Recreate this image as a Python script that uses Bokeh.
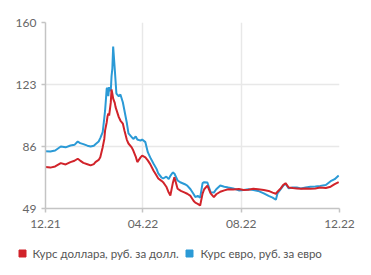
import pandas as pd
from bokeh.plotting import figure
from bokeh.layouts import column
from bokeh.core.properties import value
from bokeh.models import FixedTicker, DatetimeTickFormatter, ColumnDataSource, Range1d
from bokeh.embed import file_html
from bokeh.resources import INLINE

dates = [
    "2021-12-01", "2021-12-07", "2021-12-13", "2021-12-20", "2021-12-26", "2022-01-01", "2022-01-06",
    "2022-01-10", "2022-01-13", "2022-01-17", "2022-01-22", "2022-01-26", "2022-01-30", "2022-02-01",
    "2022-02-05", "2022-02-07", "2022-02-10", "2022-02-12", "2022-02-13", "2022-02-15", "2022-02-16",
    "2022-02-17", "2022-02-18", "2022-02-20", "2022-02-21", "2022-02-22", "2022-02-23", "2022-02-25",
    "2022-02-26", "2022-02-27", "2022-03-02", "2022-03-04", "2022-03-07", "2022-03-09", "2022-03-12",
    "2022-03-14", "2022-03-18", "2022-03-20", "2022-03-23", "2022-03-25", "2022-03-29", "2022-03-31",
    "2022-04-04", "2022-04-07", "2022-04-10", "2022-04-14", "2022-04-18", "2022-04-20", "2022-04-24",
    "2022-04-26", "2022-04-30", "2022-05-03", "2022-05-05", "2022-05-08", "2022-05-10", "2022-05-14",
    "2022-05-18", "2022-05-23", "2022-05-26", "2022-05-30", "2022-06-03", "2022-06-05", "2022-06-08",
    "2022-06-11", "2022-06-14", "2022-06-16", "2022-06-20", "2022-06-24", "2022-06-28", "2022-07-01",
    "2022-07-06", "2022-07-11", "2022-07-16", "2022-07-22", "2022-07-29", "2022-08-04", "2022-08-10",
    "2022-08-16", "2022-08-22", "2022-08-29", "2022-09-04", "2022-09-09", "2022-09-13", "2022-09-15",
    "2022-09-19", "2022-09-22", "2022-09-25", "2022-09-29", "2022-10-04", "2022-10-09", "2022-10-14",
    "2022-10-20", "2022-10-26", "2022-11-01", "2022-11-07", "2022-11-14", "2022-11-20", "2022-11-25",
    "2022-11-30",
]

usd = [
    73.7, 73.4, 74.1, 76.1, 75.3, 76.7, 77.5,
    78.7, 77.6, 76.2, 75.4, 74.7, 75.5, 76.7,
    78.0, 79.6, 85.6, 90.5, 95.6, 100.5, 104.0,
    105.7, 104.5, 112.0, 120.0, 117.5, 114.6, 112.0,
    109.5, 108.0, 103.5, 101.5, 99.7, 95.6, 90.0,
    87.8, 85.5, 83.6, 80.0, 76.7, 79.5, 80.6,
    79.5, 77.7, 75.5, 71.7, 68.5, 66.9, 65.5,
    64.7, 62.0, 58.5, 56.8, 64.0, 67.7, 60.8,
    59.5, 58.5, 57.8, 56.5, 53.5, 52.5, 51.8,
    50.8, 57.9, 60.5, 62.7, 58.0, 55.8, 57.5,
    59.0, 59.8, 60.5, 60.3, 60.6, 60.0, 60.2,
    60.8, 60.5, 60.0, 59.5, 58.5, 57.8, 59.0,
    61.0, 63.0, 64.1, 61.5, 61.2, 61.0, 60.8,
    61.0, 60.8, 61.0, 61.5, 61.2, 62.0, 63.5,
    64.7,
]

eur = [
    83.2, 83.0, 83.6, 86.0, 85.5, 86.6, 87.0,
    89.0, 88.0, 87.4, 86.5, 86.0, 86.5, 87.4,
    89.0, 91.0, 94.6, 103.0, 107.5, 120.5, 121.0,
    116.0, 121.5, 119.0, 128.0, 132.5, 145.7, 132.0,
    125.0, 117.6, 116.0, 117.0, 112.4, 107.5, 100.0,
    93.8, 91.6, 90.5, 92.0, 90.2, 89.5, 90.2,
    88.6, 82.6, 79.5, 75.9, 72.5, 69.9, 67.5,
    66.9, 68.0, 66.5, 68.5, 70.5, 69.9, 65.7,
    64.5, 63.5, 62.7, 60.5, 57.5, 55.8, 56.5,
    55.5, 64.1, 64.7, 64.5, 58.7, 58.5, 60.5,
    62.7, 62.0, 61.5, 61.0, 59.8, 60.0, 60.5,
    60.0, 59.5, 58.0, 56.5, 55.5, 54.2, 58.0,
    60.5, 62.5, 63.8, 61.0, 61.5, 61.5, 61.0,
    61.5, 62.0, 62.1, 62.5, 63.0, 65.3, 66.5,
    68.7,
]

x_ticks = ["2021-12-01", "2022-04-01", "2022-08-01", "2022-12-01"]
y_ticks = [49, 86, 123, 160]
series_names = ["Курс доллара, руб. за долл.", "Курс евро, руб. за евро"]

RED = "#d1232a"
BLUE = "#2b9ad6"
FONT = "Lato"

src = ColumnDataSource(dict(x=pd.to_datetime(dates), usd=usd, eur=eur))
tick_ms = [pd.Timestamp(t).value / 1e6 for t in x_ticks]

p = figure(width=371, height=240, x_axis_type="datetime", output_backend="svg",
           toolbar_location=None,
           x_range=Range1d(pd.Timestamp(x_ticks[0]), pd.Timestamp(x_ticks[-1])),
           y_range=Range1d(49, 160),
           min_border_left=45, min_border_right=32, min_border_top=22, min_border_bottom=32)
p.outline_line_color = None
p.background_fill_color = "white"
p.border_fill_color = "white"

p.line("x", "eur", source=src, color=BLUE, line_width=2)
p.line("x", "usd", source=src, color=RED, line_width=2)

p.xaxis.ticker = FixedTicker(ticks=tick_ms)
p.xaxis.formatter = DatetimeTickFormatter(days="%m.%y", months="%m.%y", years="%m.%y")
p.yaxis.ticker = FixedTicker(ticks=y_ticks)

for ax in (p.xaxis, p.yaxis):
    ax.axis_line_color = "#c4c4c4"
    ax.axis_line_width = 1.5
    ax.major_tick_line_color = "#c4c4c4"
    ax.major_tick_line_width = 1.5
    ax.major_tick_in = 0
    ax.major_tick_out = 4
    ax.minor_tick_line_color = None
    ax.major_label_text_font = FONT
    ax.major_label_text_font_size = "12px"
    ax.major_label_text_color = "#666666"
p.xaxis.major_label_standoff = 7
p.yaxis.major_label_standoff = 5

p.xgrid.ticker = FixedTicker(ticks=tick_ms)
p.ygrid.ticker = FixedTicker(ticks=y_ticks)
p.grid.grid_line_color = "#e8e8e8"
p.grid.grid_line_width = 1.5

# legend strip (pixel-like coordinates: x 0..371, y 0..35)
lf = figure(frame_width=371, frame_height=35, output_backend="svg", toolbar_location=None,
            x_range=Range1d(0, 371), y_range=Range1d(0, 35),
            x_axis_location=None, y_axis_location=None,
            min_border_left=0, min_border_right=0, min_border_top=0, min_border_bottom=0)
lf.frame_align = False
lf.grid.visible = False
lf.outline_line_color = None
lf.border_fill_color = "white"

leg = ColumnDataSource(dict(mx=[22, 189], tx=[32, 200], y=[22, 22],
                            color=[RED, BLUE], label=series_names))
lf.scatter("mx", "y", source=leg, marker="square", color="color", size=7)
lf.text("tx", "y", text="label", source=leg, text_baseline="middle",
        text_font=value(FONT), text_font_size="11.5px", text_color="#555555")

layout = column(p, lf, spacing=0)
open("out.html", "w").write(file_html(layout, INLINE))
